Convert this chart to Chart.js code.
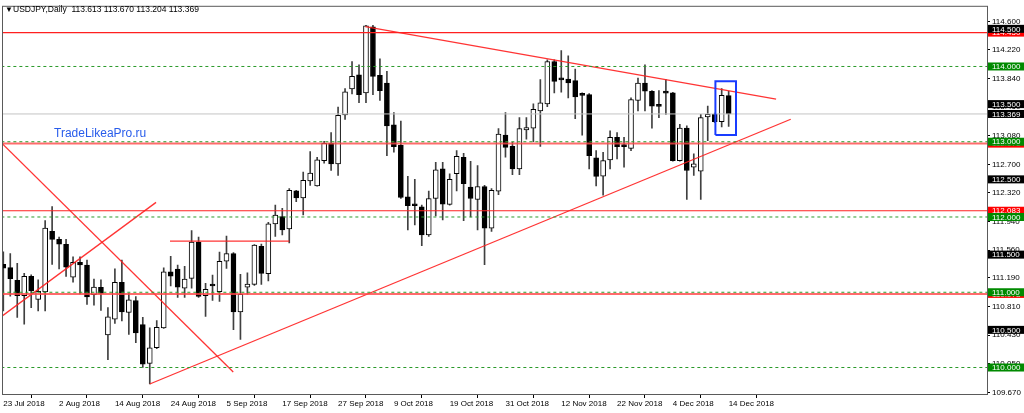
<!DOCTYPE html>
<html>
<head>
<meta charset="utf-8">
<script src="https://cdn.jsdelivr.net/npm/chart.js@4.4.1/dist/chart.umd.min.js"></script>
<style>
  html, body { margin: 0; padding: 0; background: #fff; }
  canvas { display: block; }
</style>
</head>
<body>
<canvas id="priceChart" width="1024" height="413"></canvas>
<script>
// USDJPY daily candles, 23 Jul 2018 .. 14 Dec 2018
const dates = [
  '23 Jul 2018','24 Jul 2018','25 Jul 2018','26 Jul 2018','27 Jul 2018','30 Jul 2018','31 Jul 2018',
  '1 Aug 2018','2 Aug 2018','3 Aug 2018','6 Aug 2018','7 Aug 2018','8 Aug 2018','9 Aug 2018','10 Aug 2018',
  '13 Aug 2018','14 Aug 2018','15 Aug 2018','16 Aug 2018','17 Aug 2018','20 Aug 2018','21 Aug 2018','22 Aug 2018',
  '23 Aug 2018','24 Aug 2018','27 Aug 2018','28 Aug 2018','29 Aug 2018','30 Aug 2018','31 Aug 2018',
  '3 Sep 2018','4 Sep 2018','5 Sep 2018','6 Sep 2018','7 Sep 2018','10 Sep 2018','11 Sep 2018','12 Sep 2018',
  '13 Sep 2018','14 Sep 2018','17 Sep 2018','18 Sep 2018','19 Sep 2018','20 Sep 2018','21 Sep 2018','24 Sep 2018',
  '25 Sep 2018','26 Sep 2018','27 Sep 2018','28 Sep 2018',
  '1 Oct 2018','2 Oct 2018','3 Oct 2018','4 Oct 2018','5 Oct 2018','8 Oct 2018','9 Oct 2018','10 Oct 2018',
  '11 Oct 2018','12 Oct 2018','15 Oct 2018','16 Oct 2018','17 Oct 2018','18 Oct 2018','19 Oct 2018','22 Oct 2018',
  '23 Oct 2018','24 Oct 2018','25 Oct 2018','26 Oct 2018','29 Oct 2018','30 Oct 2018','31 Oct 2018',
  '1 Nov 2018','2 Nov 2018','5 Nov 2018','6 Nov 2018','7 Nov 2018','8 Nov 2018','9 Nov 2018','12 Nov 2018',
  '13 Nov 2018','14 Nov 2018','15 Nov 2018','16 Nov 2018','19 Nov 2018','20 Nov 2018','21 Nov 2018','22 Nov 2018',
  '23 Nov 2018','26 Nov 2018','27 Nov 2018','28 Nov 2018','29 Nov 2018','30 Nov 2018',
  '3 Dec 2018','4 Dec 2018','5 Dec 2018','6 Dec 2018','7 Dec 2018','10 Dec 2018','11 Dec 2018','12 Dec 2018',
  '13 Dec 2018','14 Dec 2018'
];

const opens = [
  111.371,111.327,111.157,110.956,111.210,110.904,111.004,
  111.808,111.703,111.638,111.201,111.397,111.362,110.969,111.066,
  110.432,110.642,111.131,110.732,110.890,110.570,110.053,110.263,
  110.526,111.272,111.307,111.053,111.184,111.667,110.956,
  111.096,111.009,111.412,111.513,110.737,111.066,111.105,111.610,
  111.246,111.908,112.004,111.842,112.347,112.254,112.478,112.412,
  112.750,112.978,112.706,113.355,
  113.702,113.890,113.649,114.526,113.882,113.781,113.224,112.956,
  112.268,112.167,112.136,111.763,112.246,112.640,112.167,112.575,
  112.794,112.399,112.232,112.404,111.851,112.342,113.088,
  112.939,112.640,113.158,113.180,113.408,113.504,114.066,113.830,
  113.833,113.811,113.622,113.627,112.785,112.544,112.759,113.057,
  112.947,112.912,113.548,113.781,113.671,113.480,
  113.671,113.649,112.750,113.180,112.662,112.610,113.329,113.364,
  113.268,113.613
];
const highs = [
  111.537,111.515,111.384,111.253,111.231,111.166,111.952,
  112.140,111.734,111.703,111.472,111.472,111.428,111.175,111.166,
  110.795,111.310,111.428,110.987,110.943,110.667,110.526,110.623,
  111.325,111.478,111.360,111.346,111.820,111.732,111.118,
  111.228,111.535,111.746,111.526,111.237,111.259,111.635,111.640,
  111.930,112.158,112.114,112.377,112.355,112.596,112.868,112.794,
  113.004,113.123,113.461,113.706,
  114.066,114.022,114.548,114.548,114.100,113.934,113.386,113.276,
  112.539,112.500,112.158,112.346,112.728,112.728,112.575,112.882,
  112.846,112.741,112.684,112.420,112.377,113.175,113.386,
  112.991,113.320,113.320,113.504,113.825,114.088,114.088,114.210,
  114.140,113.965,113.649,113.640,112.882,112.860,113.145,113.123,
  113.057,113.583,113.846,114.022,113.680,113.680,
  113.825,113.658,113.232,113.211,112.838,113.364,113.474,113.380,
  113.706,113.670
];
const lows = [
  110.751,110.948,110.664,110.576,110.795,110.751,110.751,
  111.371,111.310,111.210,111.135,110.978,110.838,110.830,110.760,
  110.105,110.585,110.620,110.439,110.329,110.000,109.781,110.250,
  110.518,111.083,110.930,110.930,111.053,110.930,110.680,
  110.890,110.877,111.316,110.504,110.373,110.974,111.090,111.105,
  111.149,111.741,111.763,111.654,112.202,112.026,112.421,112.408,
  112.715,112.618,112.553,113.298,
  113.636,113.518,113.518,113.627,113.548,112.816,112.860,112.246,
  111.829,111.895,111.618,111.741,112.013,111.961,112.158,112.346,
  111.952,112.000,111.829,111.368,111.807,112.298,112.794,
  112.561,112.561,113.035,113.000,112.939,113.465,113.649,113.658,
  113.583,113.307,113.088,112.640,112.412,112.289,112.640,112.772,
  112.662,112.882,113.408,113.408,113.180,113.320,
  113.364,112.741,112.741,112.232,112.553,112.232,113.013,113.255,
  113.197,113.204
];
const closes = [
  111.319,111.179,110.956,111.210,111.022,111.013,111.852,
  111.703,111.638,111.332,111.397,111.362,110.939,111.070,110.983,
  110.672,111.131,110.738,110.899,110.461,110.044,110.263,110.535,
  111.272,111.215,111.066,111.175,111.667,110.943,111.039,
  111.083,111.412,111.513,110.737,110.974,111.110,111.627,111.250,
  111.908,112.026,111.829,112.355,112.254,112.487,112.583,112.759,
  112.978,112.706,113.351,113.662,
  113.868,113.627,114.539,113.868,113.680,113.211,112.934,112.259,
  112.149,112.149,111.763,112.246,112.627,112.171,112.500,112.807,
  112.443,112.246,112.404,111.851,112.355,113.101,112.925,
  112.640,113.175,113.189,113.430,113.518,114.066,113.803,113.822,
  113.781,113.596,113.616,112.816,112.539,112.750,113.057,112.934,
  112.934,113.561,113.781,113.671,113.474,113.470,
  113.645,112.750,113.180,112.618,112.706,113.320,113.364,113.268,
  113.618,113.369
];

// price scale tick labels (right axis)
const yTicks = [114.600,114.220,113.840,113.460,113.080,112.700,112.320,111.940,111.560,111.190,110.810,110.430,110.050,109.670];
// date labels every 8 bars
const xTickIdx = [0,8,16,24,32,40,48,56,64,72,80,88,96,104];

// horizontal levels
const redLevels = [114.450, 112.975, 112.083, 110.978];
const greenLevels = [114.000, 113.000, 112.000, 111.000, 110.000];
const blackLabels = [114.500, 113.500, 112.500, 111.500, 110.500];

// trend lines: [bar index, price] pairs
const resistX = [51.9, 110.8],  resistY = [114.530, 113.566];
const supportX = [21.0, 112.9], supportY = [109.781, 113.299];
const crossDownX = [-0.5, 32.97], crossDownY = [113.007, 109.941];
const crossUpX = [-0.5, 21.9],    crossUpY = [110.661, 112.194];
const shortX = [23.9, 41.0],      shortY = [111.680, 111.680];
const boxX = [102.1, 105.05],     boxY = [113.091, 113.805];

const FONT = "'Liberation Sans', 'DejaVu Sans', sans-serif";

function seg(xs, ys) { return xs.map((x, i) => ({ x, y: ys[i] })); }
function level(v) { return [{ x: -2, y: v }, { x: 145, y: v }]; }

const lastIdx = closes.length - 1;
const bid = closes[lastIdx];

const datasets = [];

// blue box around the last two candles
datasets.push({
  type: 'line', order: -1,
  data: [
    { x: boxX[0], y: boxY[0] }, { x: boxX[0], y: boxY[1] },
    { x: boxX[1], y: boxY[1] }, { x: boxX[1], y: boxY[0] }, { x: boxX[0], y: boxY[0] }
  ],
  borderColor: 'rgb(25,60,255)', borderWidth: 2, pointRadius: 0, tension: 0
});

greenLevels.forEach(v => datasets.push({
  type: 'line', order: 0, data: level(v),
  borderColor: '#2b9a2b', borderWidth: 1, borderDash: [3, 3], pointRadius: 0
}));

datasets.push({
  type: 'line', order: 0, data: level(bid),
  borderColor: '#c4c4c4', borderWidth: 1, pointRadius: 0
});

redLevels.forEach((v, i) => datasets.push({
  type: 'line', order: 0, data: level(v),
  borderColor: (i === 1 || i === 3) ? 'rgba(255,70,70,0.8)' : '#ff2020',
  borderWidth: (i === 1 || i === 3) ? 2 : 1.2, pointRadius: 0
}));

[[resistX, resistY], [supportX, supportY], [crossDownX, crossDownY], [crossUpX, crossUpY], [shortX, shortY]]
  .forEach(([xs, ys]) => datasets.push({
    type: 'line', order: 0, data: seg(xs, ys),
    borderColor: 'rgba(255,30,30,0.9)', borderWidth: 1.3, pointRadius: 0
  }));

// candle bodies
datasets.push({
  type: 'bar', order: 1, grouped: false,
  data: opens.map((o, i) => ({ x: i, y: [o, closes[i]] })),
  backgroundColor: opens.map((o, i) => closes[i] >= o ? '#ffffff' : '#000000'),
  borderColor: '#000000', borderWidth: 1, borderSkipped: false,
  barThickness: 5, minBarLength: 2
});

// wicks
datasets.push({
  type: 'bar', order: 2, grouped: false,
  data: lows.map((l, i) => ({ x: i, y: [l, highs[i]] })),
  backgroundColor: '#404040', borderWidth: 0,
  barThickness: 1, minBarLength: 1
});

const overlay = {
  id: 'overlay',
  afterDraw(chart) {
    const { ctx, chartArea: a, scales: { y } } = chart;
    ctx.save();

    // plot frame
    ctx.strokeStyle = '#5a5a5a';
    ctx.lineWidth = 1;
    ctx.strokeRect(a.left - 0.5, a.top - 0.5, a.right - a.left + 1, a.bottom - a.top + 1);

    // header
    ctx.fillStyle = '#000';
    ctx.font = '8px ' + FONT;
    ctx.textBaseline = 'middle';
    ctx.textAlign = 'left';
    ctx.fillText('\u25BC', 5, 9.5);
    ctx.font = '8.5px ' + FONT;
    ctx.fillText('USDJPY,Daily  ' + [opens[lastIdx], highs[lastIdx], lows[lastIdx], closes[lastIdx]]
      .map(v => v.toFixed(3)).join(' '), 13, 9.5);

    // watermark
    ctx.fillStyle = 'rgb(40,92,235)';
    ctx.font = '12px ' + FONT;
    ctx.textBaseline = 'alphabetic';
    ctx.fillText('TradeLikeaPro.ru', 54, 136.5);

    // price labels on the axis
    const box = (v, bg) => {
      const py = y.getPixelForValue(v);
      ctx.fillStyle = bg;
      ctx.fillRect(a.right + 1, py - 4, 1024 - a.right, 8);
      ctx.fillStyle = '#fff';
      ctx.font = '8px ' + FONT;
      ctx.textBaseline = 'middle';
      ctx.fillText(v.toFixed(3), a.right + 5, py + 0.5);
    };
    redLevels.forEach(v => box(v, '#ff0000'));
    greenLevels.forEach(v => box(v, '#008a00'));
    blackLabels.forEach(v => box(v, '#000000'));
    box(bid, '#000000');
    ctx.restore();
  }
};

new Chart(document.getElementById('priceChart').getContext('2d'), {
  type: 'bar',
  data: { datasets },
  options: {
    responsive: false,
    animation: false,
    devicePixelRatio: 1,
    layout: { padding: { left: 3, top: 2, right: 0, bottom: 0 } },
    plugins: { legend: { display: false }, tooltip: { enabled: false }, title: { display: false } },
    events: [],
    scales: {
      x: {
        type: 'linear', offset: false,
        min: -0.043, max: 141.04,
        afterBuildTicks: s => { s.ticks = xTickIdx.map(v => ({ value: v })); },
        afterFit: s => { s.height = 19; },
        ticks: {
          autoSkip: false, maxRotation: 0, align: 'start', padding: 1,
          color: '#000', font: { size: 8, family: FONT },
          callback: v => dates[v] || ''
        },
        grid: { display: true, drawOnChartArea: false, drawTicks: true, tickLength: 4, color: '#000' },
        border: { display: true, color: '#5a5a5a' }
      },
      y: {
        position: 'right',
        min: 109.648, max: 114.793,
        afterBuildTicks: s => { s.ticks = yTicks.map(v => ({ value: v })); },
        afterFit: s => { s.width = 37; },
        ticks: {
          padding: 2, color: '#000', font: { size: 8, family: FONT },
          callback: v => Number(v).toFixed(3)
        },
        grid: { display: true, drawOnChartArea: false, drawTicks: true, tickLength: 3, color: '#000' },
        border: { display: true, color: '#5a5a5a' }
      }
    }
  },
  plugins: [overlay]
});
</script>
</body>
</html>
